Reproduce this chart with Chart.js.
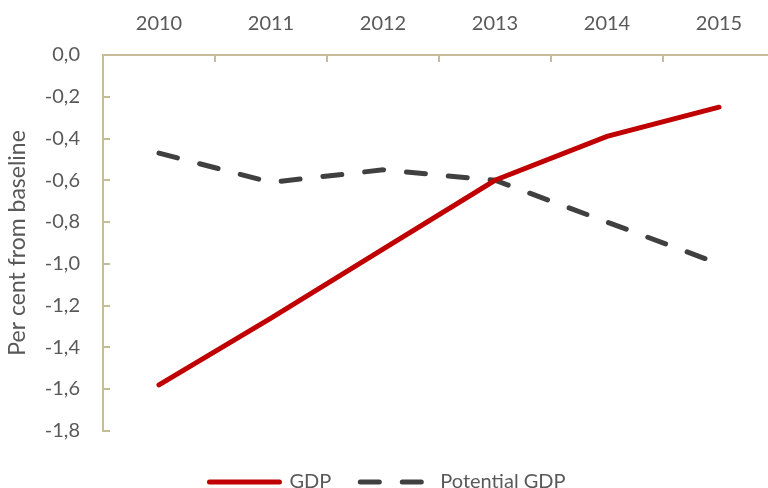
<!DOCTYPE html>
<html>
<head>
<meta charset="utf-8">
<script src="https://cdn.jsdelivr.net/npm/chart.js@4"></script>
<style>
  html, body { margin: 0; padding: 0; background: #fff; overflow: hidden; }
  #frame { width: 768px; height: 488px; overflow: hidden; position: relative; }
  #inner { position: absolute; left: 0; top: 0; width: 790px; height: 504px; }
</style>
</head>
<body>
<div id="frame">
  <div id="inner"><canvas id="chart" width="790" height="504"></canvas></div>
</div>
<script>
// Chart data
const years = ["2010", "2011", "2012", "2013", "2014", "2015"];
const gdp = [-1.58, -1.26, -0.93, -0.60, -0.39, -0.25];
const potentialGdp = [-0.47, -0.61, -0.55, -0.60, -0.80, -1.00];
const yMin = -1.8;
const yMax = 0;
const yStep = 0.2;

const textColor = "#595959";
const axisColor = "#c4bd97";
const fontFamily = "Lato, 'Open Sans', sans-serif";

// comma decimal separator, e.g. -0,4
function formatTick(v) {
  const s = Math.abs(v) < 1e-9 ? "0.0" : v.toFixed(1);
  return s.replace(".", ",");
}

// legend samples keep the dataset's dash and round caps
function legendLabels(chart) {
  const items = Chart.defaults.plugins.legend.labels.generateLabels(chart);
  return items.map((item) => {
    const ds = chart.data.datasets[item.datasetIndex];
    return { ...item, lineDash: ds.borderDash || [], lineCap: "round", lineWidth: ds.borderWidth };
  });
}

const ctx = document.getElementById("chart");

new Chart(ctx, {
  type: "line",
  data: {
    labels: years,
    datasets: [
      {
        label: "GDP",
        data: gdp,
        borderColor: "#c00000",
        backgroundColor: "#c00000",
        borderWidth: 5,
        borderCapStyle: "round",
        pointRadius: 0,
        tension: 0
      },
      {
        label: "Potential GDP",
        data: potentialGdp,
        borderColor: "#404040",
        backgroundColor: "#404040",
        borderWidth: 5,
        borderCapStyle: "round",
        borderDash: [19, 23],
        pointRadius: 0,
        tension: 0
      }
    ]
  },
  options: {
    responsive: false,
    animation: false,
    layout: { padding: { left: 0, right: 15, top: 0, bottom: 2 } },
    plugins: {
      tooltip: { enabled: false },
      legend: {
        position: "bottom",
        // empty title only adds room between the plot and the legend
        title: { display: true, text: "", font: { size: 1 }, padding: { top: 0, bottom: 11 } },
        labels: {
          usePointStyle: true,
          pointStyle: "line",
          pointStyleWidth: 70,
          boxHeight: 10,
          padding: 29,
          color: textColor,
          font: { family: fontFamily, size: 20 },
          generateLabels: legendLabels
        }
      }
    },
    scales: {
      x: {
        position: "top",
        offset: true,
        grid: {
          offset: true,
          drawOnChartArea: false,
          color: axisColor,
          lineWidth: 2,
          tickLength: -7
        },
        border: { color: axisColor, width: 2 },
        ticks: {
          color: textColor,
          padding: 26,
          font: { family: fontFamily, size: 20 }
        },
        afterFit: (scale) => { scale.height = 55; }
      },
      y: {
        min: yMin,
        max: yMax,
        grid: {
          drawOnChartArea: false,
          color: axisColor,
          lineWidth: 2,
          tickLength: -7
        },
        border: { color: axisColor, width: 2 },
        ticks: {
          stepSize: yStep,
          color: textColor,
          padding: 30,
          font: { family: fontFamily, size: 20 },
          callback: (v) => formatTick(v)
        },
        title: {
          display: true,
          text: "Per cent from baseline",
          color: textColor,
          padding: { top: 4, bottom: 0 },
          font: { family: fontFamily, size: 23 }
        },
        afterFit: (scale) => { scale.width = 103; }
      }
    }
  }
});
</script>
</body>
</html>
